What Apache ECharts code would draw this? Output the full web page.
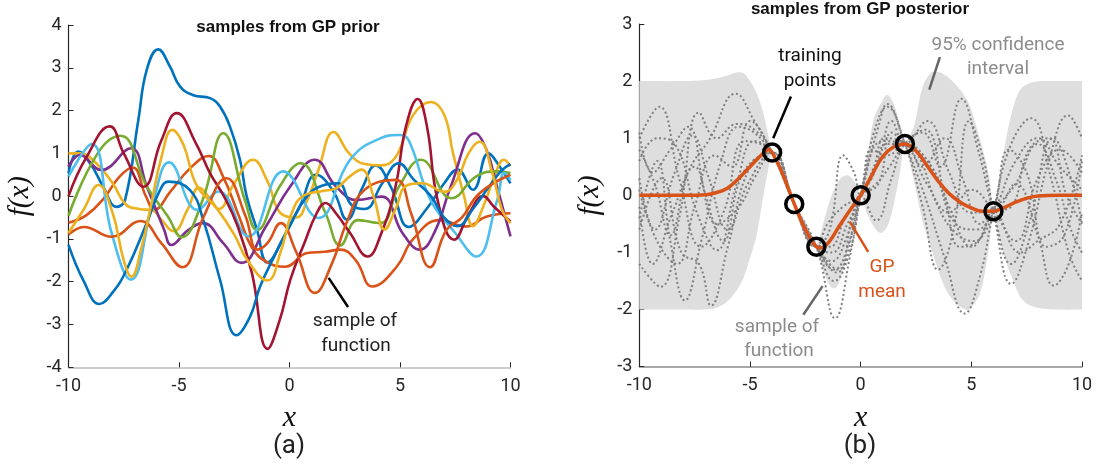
<!DOCTYPE html>
<html>
<head>
<meta charset="utf-8">
<script src="https://cdn.jsdelivr.net/npm/echarts@6/dist/echarts.min.js"></script>
<style>
  html, body { margin: 0; padding: 0; background: #fff; }
  #chart { width: 1099px; height: 467px; }
</style>
</head>
<body>
<div id="chart"></div>
<script>
// ---------- (a) samples drawn from the GP prior: [x, f(x)] ----------
const priorBlueA = [[-10,0.54],[-9.56,1.04],[-9.0,0.75],[-8.43,0.22],[-7.82,-0.25],[-7.44,-0.09],[-6.84,1.78],[-6.46,2.95],[-5.94,3.43],[-5.41,3.03],[-4.95,2.56],[-4.35,2.36],[-3.6,2.29],[-3.14,2.09],[-2.69,1.62],[-2.24,0.85],[-1.94,0.0],[-1.47,-0.79],[-1.0,-1.55],[-0.3,-1.0],[0.5,-0.2],[1.2,0.5],[2.0,0.1],[2.6,-0.55],[3.3,0.2],[3.9,0.72],[4.6,0.2],[5.4,-0.72],[6.2,-0.3],[7.0,0.3],[7.6,0.62],[8.3,0.15],[9.0,1.0],[9.5,0.7],[10,0.3]];
const priorOrangeA = [[-10,-0.62],[-9.2,-0.45],[-8.4,-0.05],[-7.7,0.45],[-7.1,0.67],[-6.5,0.0],[-6.1,-0.32],[-5.4,0.1],[-4.5,0.65],[-3.65,0.94],[-3.0,0.45],[-2.3,-0.45],[-1.7,-1.2],[-1.0,-1.55],[-0.2,-1.65],[0.8,-1.33],[1.6,-1.3],[2.3,-1.25],[3.0,-1.5],[3.75,-2.11],[4.85,-1.65],[5.6,-1.0],[6.8,-0.56],[8.0,-0.71],[8.9,-0.48],[10,-0.4]];
const priorYellowA = [[-10,1.0],[-9.5,1.0],[-8.8,0.8],[-8.0,0.3],[-7.4,-0.2],[-6.8,-0.3],[-6.2,-0.33],[-5.8,-0.55],[-5.25,-0.82],[-4.6,-0.3],[-4.1,0.2],[-3.6,-0.05],[-3.2,-0.3],[-2.5,0.3],[-1.65,0.85],[-1.0,0.35],[-0.4,-0.4],[0.3,-0.5],[0.8,-0.1],[1.3,0.6],[2.0,1.5],[2.7,1.0],[3.4,0.75],[4.1,0.72],[4.6,0.8],[5.0,1.1],[5.6,1.9],[6.4,2.2],[7.0,1.9],[7.4,1.0],[7.9,0.0],[8.3,-0.7],[8.8,-0.2],[9.3,0.5],[9.7,0.85],[10,0.7]];
const priorPurple = [[-10,0.69],[-9.48,0.96],[-8.52,0.61],[-7.18,1.12],[-6.46,0.23],[-5.67,-0.79],[-5.35,-1.14],[-4.6,-0.8],[-3.93,-0.63],[-3.0,-1.1],[-2.18,-1.56],[-1.07,-0.71],[0.04,0.23],[1.15,0.85],[2.1,0.23],[3.05,-0.09],[4.16,-0.01],[5.11,-0.86],[5.9,-1.25],[6.6,-0.8],[7.3,0.23],[8.4,1.47],[8.9,1.1],[9.4,0.2],[10,-0.94]];
const priorGreen = [[-10,-0.46],[-8.68,1.0],[-7.65,1.41],[-6.46,0.23],[-5.51,-0.47],[-4.88,-0.96],[-3.93,-0.09],[-3.0,1.47],[-2.02,-0.09],[-1.47,-0.79],[-0.44,0.23],[0.5,0.77],[1.63,-0.4],[2.3,-1.15],[3.1,-0.56],[4.1,-0.63],[4.96,0.23],[5.95,0.85],[7.33,-0.05],[8.45,0.46],[9.4,0.58],[10,0.54]];
const priorLightBlue = [[-10,0.46],[-8.95,1.22],[-8.05,-0.86],[-7.18,-1.95],[-6.15,-0.09],[-5.45,0.79],[-4.16,-0.32],[-3.21,0.11],[-1.86,-0.94],[-0.28,0.58],[1.31,-0.51],[2.74,0.85],[4.1,1.35],[5.0,1.43],[5.4,1.3],[6.38,-0.09],[7.5,-0.86],[8.45,-1.41],[9.4,-0.09],[9.72,0.54],[10,0.38]];
const priorDarkRed = [[-10,0.0],[-9.2,0.9],[-8.13,1.63],[-7.5,1.0],[-6.6,0.22],[-5.8,1.3],[-5.1,1.94],[-4.24,1.24],[-3.6,0.54],[-2.97,0.0],[-2.34,-0.71],[-1.7,-1.8],[-0.99,-3.57],[-0.44,-2.89],[0.04,-1.95],[0.67,-1.1],[1.23,-0.4],[1.63,-0.16],[2.1,-0.4],[2.74,-0.86],[3.53,-1.41],[4.16,-0.86],[4.8,0.23],[5.27,1.63],[5.8,2.27],[6.22,1.63],[6.7,-0.09],[7.45,-1.02],[8.13,-0.4],[8.76,0.0],[9.24,-0.24],[10,-0.59]];
const priorBlueB = [[-10,-1.14],[-9.3,-2.0],[-8.6,-2.52],[-8.0,-2.25],[-7.37,-1.72],[-6.46,-0.63],[-5.86,0.14],[-5.48,0.34],[-4.5,0.14],[-3.9,-0.56],[-3.14,-1.96],[-2.4,-3.25],[-1.79,-2.82],[-1.33,-2.11],[-0.73,-1.45],[0.0,-0.7],[0.8,0.0],[1.5,0.25],[2.2,0.3],[2.8,-0.2],[3.4,-0.3],[4.2,0.3],[4.95,0.77],[5.6,0.4],[6.4,0.0],[7.0,-0.5],[7.6,-0.7],[8.3,-0.3],[9.0,0.2],[9.6,0.6],[10,0.75]];
const priorOrangeB = [[-10,-0.9],[-9.3,-0.72],[-8.05,-0.95],[-6.75,-0.58],[-5.8,-1.1],[-4.85,-1.66],[-3.9,-0.5],[-2.85,0.42],[-2.0,-0.45],[-1.45,-1.25],[-1.0,-1.1],[-0.4,-0.63],[0.3,-1.3],[1.15,-2.26],[1.9,-1.6],[2.6,-0.6],[3.4,0.15],[4.8,0.38],[5.5,-0.4],[6.36,-1.66],[7.1,-0.79],[7.8,-0.5],[8.6,0.07],[10,0.5]];
const priorYellowB = [[-10,-0.86],[-9.3,-0.3],[-8.65,0.26],[-8.0,-0.4],[-7.5,-1.5],[-7.15,-1.88],[-6.7,-1.2],[-6.3,-0.3],[-5.8,0.9],[-5.3,1.55],[-4.8,1.2],[-4.2,0.25],[-3.3,-0.28],[-2.5,-0.9],[-1.9,-1.5],[-1.0,-1.97],[-0.4,-1.3],[0.1,-0.4],[0.6,0.0],[1.5,0.12],[2.1,0.18],[2.7,0.45],[3.25,0.62],[3.8,0.0],[4.3,-0.78],[4.8,-0.3],[5.3,0.25],[6.0,0.3],[7.0,0.1],[7.6,0.4],[8.1,1.0],[8.6,1.27],[9.2,0.5],[9.6,-0.3],[10,-0.63]];

// ---------- (b) GP posterior ----------
const trainX = [-4, -3, -2, 0, 2, 6];
const trainY = [0.75, -0.15, -0.9, 0, 0.9, -0.28];

const meanX = [-10,-8,-7,-6.5,-6,-5.5,-5,-4.5,-4.15,-4,-3.5,-3,-2.5,-2,-1.8,-1.4,-1,-0.5,0,0.5,1,1.5,2,2.5,3,3.5,4,4.5,5,5.5,6,6.5,7,7.5,8,9,10];
const meanY = [0,0,0.01,0.05,0.13,0.3,0.5,0.7,0.8,0.75,0.35,-0.15,-0.6,-0.9,-0.92,-0.8,-0.56,-0.27,0,0.35,0.68,0.85,0.9,0.78,0.52,0.25,0.03,-0.12,-0.22,-0.28,-0.28,-0.21,-0.12,-0.05,-0.01,0,0];

const bandX = [-10,-8,-7,-6.5,-6,-5.6,-5.3,-5,-4.7,-4.4,-4.2,-4,-3.5,-3,-2.5,-2,-1.7,-1.4,-1.15,-0.9,-0.6,-0.3,0,0.3,0.6,0.9,1.2,1.5,1.8,2,2.4,2.8,3.2,3.6,4,4.5,4.9,5.4,5.8,6,6.3,6.6,6.9,7.2,7.6,8.2,9,10];
const bandUpper = [2,2,2.02,2.05,2.1,2.15,2.14,2.0,1.79,1.45,1.1,0.78,0.5,-0.1,-0.45,-0.85,-0.5,-0.1,0.15,0.3,0.35,0.25,0.03,0.7,1.35,1.6,1.76,1.6,1.2,0.93,1.2,1.9,2.15,2.15,2.05,1.85,1.6,0.97,0.35,-0.25,0.4,1.05,1.55,1.85,1.96,2.0,2.0,2.0];
const bandLower = [-2,-2,-2,-1.97,-1.85,-1.66,-1.45,-1.1,-0.7,-0.02,0.4,0.72,0.25,-0.2,-0.75,-0.95,-1.3,-1.58,-1.63,-1.45,-1.0,-0.45,-0.03,-0.33,-0.55,-0.66,-0.55,-0.15,0.45,0.87,0.27,-0.45,-0.95,-1.42,-1.75,-1.95,-2.0,-1.71,-0.9,-0.31,-0.8,-1.2,-1.5,-1.77,-1.92,-1.98,-2,-2];

const post1 = [[-10,1.0],[-9.1,1.55],[-8.2,0.3],[-7.2,-0.9],[-6.2,-0.3],[-5.2,0.95],[-4,0.75],[-3,-0.15],[-2,-0.9],[-1.1,-1.35],[0,0],[1.0,0.95],[2,0.9],[3.2,0.5],[4.3,-0.5],[5.2,-0.6],[6,-0.28],[7.0,0.6],[8.0,1.0],[9.0,0.5],[10,0.1]];
const post2 = [[-10,-1.2],[-9.05,-1.6],[-8.2,-0.4],[-7.3,1.45],[-6.5,1.0],[-5.6,1.25],[-4.8,1.15],[-4,0.75],[-3,-0.15],[-2,-0.9],[-1.15,-2.15],[-0.5,-1.1],[0,0],[0.8,1.2],[1.2,1.6],[2,0.9],[2.8,0.1],[3.8,-1.1],[4.7,-2.07],[5.4,-1.4],[6,-0.28],[6.8,0.9],[7.7,1.35],[8.6,0.3],[9.4,-1.0],[10,-1.5]];
const post3 = [[-10,0.3],[-9.3,-0.6],[-8.4,0.4],[-7.6,1.05],[-6.9,0.35],[-6.0,-0.6],[-5.1,0.2],[-4,0.75],[-3,-0.15],[-2,-0.9],[-1.3,-1.15],[-0.6,-0.7],[0,0],[0.7,-0.44],[1.4,0.3],[2,0.9],[2.8,1.1],[3.6,0.5],[4.55,1.69],[5.3,0.8],[6,-0.28],[6.8,-1.2],[7.6,-0.5],[8.7,1.0],[9.5,0.3],[10,-0.5]];
const post4 = [[-10,-0.4],[-9.2,0.6],[-8.6,-0.8],[-7.94,-1.84],[-7.2,-0.8],[-6.3,0.6],[-5.5,1.2],[-4,0.75],[-3,-0.15],[-2,-0.9],[-1.4,-0.6],[-0.79,0.7],[-0.3,0.4],[0,0],[0.6,0.5],[1.1,1.0],[2,0.9],[3.0,0.2],[4.0,-0.3],[5.0,0.1],[6,-0.28],[7.0,-0.8],[8.0,0.3],[9.0,0.8],[10,0.4]];
const post5 = [[-10,0.8],[-9.3,0.2],[-8.6,-0.7],[-7.8,0.4],[-6.8,1.0],[-5.65,1.78],[-4.8,1.3],[-4,0.75],[-3,-0.15],[-2,-0.9],[-1.2,-1.5],[-0.5,-1.0],[0,0],[0.6,1.1],[1.2,1.55],[2,0.9],[2.8,-0.2],[3.5,-1.3],[4.2,-0.6],[4.9,1.3],[5.5,0.7],[6,-0.28],[6.8,-1.55],[7.6,-0.8],[8.5,0.6],[9.37,1.4],[10,1.0]];
const post6 = [[-10,-0.6],[-9.0,0.3],[-8.1,-1.0],[-7.3,-1.2],[-6.76,-1.93],[-6.0,-0.9],[-5.0,0.5],[-4,0.75],[-3,-0.15],[-2,-0.9],[-1.5,-0.5],[-0.8,-0.2],[0,0],[0.8,0.6],[1.4,1.3],[2,0.9],[3.0,1.3],[4.0,0.4],[5.0,-0.3],[6,-0.28],[7.0,0.2],[8.0,-0.7],[8.73,-1.58],[9.4,-1.2],[10,-0.3]];
const post7 = [[-10,0.6],[-9.2,1.0],[-8.4,0.9],[-7.4,-0.3],[-6.5,-0.96],[-5.6,0.2],[-4.8,0.95],[-4,0.75],[-3,-0.15],[-2,-0.9],[-1.0,-1.3],[-0.4,-0.4],[0,0],[0.7,0.2],[1.3,0.5],[2,0.9],[2.9,1.15],[3.8,0.0],[4.5,-0.9],[5.3,-0.8],[6,-0.28],[6.7,0.8],[7.5,0.4],[8.4,-0.9],[9.2,-0.7],[10,0.6]];
const post8 = [[-10,0.1],[-9.2,-0.8],[-8.3,-1.2],[-7.5,-0.2],[-6.6,0.7],[-5.8,0.5],[-5.0,1.3],[-4,0.75],[-3,-0.15],[-2,-0.9],[-1.3,-1.0],[-0.6,-0.5],[0,0],[0.5,0.8],[1.2,0.7],[2,0.9],[3.2,0.5],[4.0,-0.2],[5.0,-0.9],[6,-0.28],[7.0,0.2],[8.0,0.9],[8.8,0.3],[9.5,-0.6],[10,-1.0]];
const post9 = [[-10,-0.2],[-9.4,-1.2],[-8.5,-0.3],[-7.5,0.5],[-6.5,-0.5],[-5.5,-0.2],[-4.8,0.3],[-4,0.75],[-3,-0.15],[-2,-0.9],[-1.2,-1.3],[-0.5,-0.8],[0,0],[0.5,0.3],[1.2,0.9],[2,0.9],[2.8,0.5],[3.8,1.0],[4.6,0.3],[5.4,-0.5],[6,-0.28],[6.8,-0.2],[7.6,0.8],[8.5,1.0],[9.3,0.0],[10,-0.5]];
const post10 = [[-10,1.1],[-9.4,0.4],[-8.6,0.8],[-7.8,1.2],[-7.0,0.0],[-6.2,-0.8],[-5.3,0.4],[-4,0.75],[-3,-0.15],[-2,-0.9],[-1.4,-0.9],[-0.7,-0.4],[0,0],[0.8,0.2],[1.4,1.1],[2,0.9],[2.6,0.7],[3.5,-0.2],[4.4,-0.7],[5.2,-0.8],[6,-0.28],[7.2,-1.0],[8.0,-0.8],[9.0,-0.5],[10,0.7]];

// Tick values for both panels
const xTicks = [-10, -5, 0, 5, 10];
const priorYRange = [-4, 4];
const postYRange = [-3, 3];

// ---------- styling ----------
const C = {
  blue: '#0072BD', orange: '#D95319', yellow: '#EDB120', purple: '#7E2F8E',
  green: '#77AC30', lightBlue: '#4DBEEE', darkRed: '#A2142F'
};
const axisText = '#262626';
const labelFont = 'Roboto, "Liberation Sans", sans-serif';
const mathFont = '"Liberation Serif", "DejaVu Serif", serif';

function xAxisDef(idx, lineColor) {
  return {
    type: 'value', gridIndex: idx, min: xTicks[0], max: xTicks[xTicks.length - 1], interval: 5,
    name: 'x', nameLocation: 'middle', nameGap: 36,
    nameTextStyle: { fontFamily: mathFont, fontStyle: 'italic', fontSize: 30, color: '#111' },
    axisLine: { onZero: false, lineStyle: { color: lineColor, width: 1.5 } },
    axisTick: { inside: true, length: 5, lineStyle: { color: axisText, width: 1 } },
    axisLabel: { fontFamily: labelFont, fontSize: 18, color: axisText, margin: 10 },
    splitLine: { show: false }
  };
}
function yAxisDef(idx, range) {
  return {
    type: 'value', gridIndex: idx, min: range[0], max: range[1], interval: 1,
    name: 'f(x)', nameLocation: 'middle', nameRotate: 90, nameGap: 34,
    nameTextStyle: { fontFamily: mathFont, fontStyle: 'italic', fontSize: 29, color: '#111' },
    axisLine: { onZero: false, lineStyle: { color: axisText, width: 1.2 } },
    axisTick: { inside: true, length: 5, lineStyle: { color: axisText, width: 1 } },
    axisLabel: { fontFamily: labelFont, fontSize: 18, color: axisText, margin: 7 },
    splitLine: { show: false }
  };
}

const priorCurves = [
  [priorBlueA, C.blue], [priorOrangeA, C.orange], [priorYellowA, C.yellow],
  [priorPurple, C.purple], [priorGreen, C.green], [priorLightBlue, C.lightBlue],
  [priorDarkRed, C.darkRed], [priorBlueB, C.blue], [priorOrangeB, C.orange],
  [priorYellowB, C.yellow]
];

const series = [];

priorCurves.forEach(function (c, i) {
  series.push({
    type: 'line', xAxisIndex: 0, yAxisIndex: 0, data: c[0], smooth: 0.45,
    showSymbol: false, symbol: 'none', silent: true, z: 2 + i * 0.01,
    lineStyle: { color: c[1], width: 2.6 }
  });
});

// arrow pointing at one prior sample
series[series.length - 1].markLine = {
  silent: true, symbol: ['none', 'arrow'], symbolSize: [0, 13], animation: false,
  label: { show: false },
  lineStyle: { color: '#000', width: 2.5, type: 'solid' },
  data: [[{ coord: [2.65, -2.59] }, { coord: [1.77, -1.91] }]]
};

// 95% confidence band as one filled outline: upper edge left→right, lower edge right→left.
// The outline is carried a little past both plot edges so the smoothed corners fall
// outside the clip rectangle and the band keeps square ends at x = ±10.
series.push({
  type: 'custom', xAxisIndex: 1, yAxisIndex: 1, silent: true, z: 1,
  data: [[0, 0]],
  renderItem: function (params, api) {
    const cs = params.coordSys;
    const pad = 40;
    const n = bandX.length;
    const up = bandX.map(function (x, i) { return api.coord([x, bandUpper[i]]); });
    const lo = bandX.map(function (x, i) { return api.coord([x, bandLower[i]]); });
    const pts = [];
    pts.push([up[0][0] - pad, up[0][1]]);
    up.forEach(function (p) { pts.push(p); });
    pts.push([up[n - 1][0] + pad, up[n - 1][1]]);
    pts.push([lo[n - 1][0] + pad, lo[n - 1][1]]);
    for (let i = n - 1; i >= 0; i--) pts.push(lo[i]);
    pts.push([lo[0][0] - pad, lo[0][1]]);
    return {
      type: 'polygon',
      shape: {
        points: pts, smooth: 0.3,
        smoothConstraint: [[cs.x - pad, cs.y], [cs.x + cs.width + pad, cs.y + cs.height]]
      },
      style: { fill: '#dedede', stroke: null },
      clipPath: { type: 'rect', shape: { x: cs.x, y: cs.y, width: cs.width, height: cs.height } }
    };
  }
});

[post1, post2, post3, post4, post5, post6, post7, post8, post9, post10].forEach(function (d) {
  series.push({
    type: 'line', xAxisIndex: 1, yAxisIndex: 1, data: d, smooth: 0.45,
    symbol: 'none', silent: true, z: 2,
    lineStyle: { color: '#7f7f7f', width: 2, type: [2, 2.6] }
  });
});

series.push({
  type: 'line', xAxisIndex: 1, yAxisIndex: 1,
  data: meanX.map(function (x, i) { return [x, meanY[i]]; }),
  smooth: 0.4, symbol: 'none', silent: true, z: 3,
  lineStyle: { color: C.orange, width: 3.5 }
});

series.push({
  type: 'scatter', xAxisIndex: 1, yAxisIndex: 1,
  data: trainX.map(function (x, i) { return [x, trainY[i]]; }),
  symbol: 'circle', symbolSize: 17, silent: true, z: 4,
  itemStyle: { color: 'rgba(0,0,0,0)', borderColor: '#000', borderWidth: 3.5, opacity: 1 },
  markLine: {
    silent: true, symbol: ['none', 'arrow'], symbolSize: [0, 13], animation: false,
    label: { show: false },
    lineStyle: { width: 2.5, type: 'solid' },
    data: [
      [{ coord: [-3.15, 1.73], lineStyle: { color: '#000' } }, { coord: [-3.95, 1.0] }],
      [{ coord: [3.58, 2.42], lineStyle: { color: '#666' } }, { coord: [3.1, 1.85] }],
      [{ coord: [-2.59, -2.09], lineStyle: { color: '#666' } }, { coord: [-1.72, -1.59] }],
      [{ coord: [0.34, -0.99], lineStyle: { color: C.orange } }, { coord: [-0.49, -0.46] }]
    ]
  }
});

function txt(x, y, text, opts) {
  return {
    type: 'text', x: x, y: y, silent: true, z: 10,
    style: Object.assign({
      text: text, textAlign: 'center', textVerticalAlign: 'middle',
      fontFamily: labelFont, fontSize: 19, fill: '#222'
    }, opts || {})
  };
}

const titleFont = '"Liberation Sans", Arial, sans-serif';
const graphics = [
  txt(288, 27, 'samples from GP prior', { fontFamily: titleFont, fontWeight: 'bold', fontSize: 17, fill: '#111' }),
  txt(860, 9, 'samples from GP posterior', { fontFamily: titleFont, fontWeight: 'bold', fontSize: 17, fill: '#111' }),
  txt(289, 446, '(a)', { fontSize: 26, fill: '#222' }),
  txt(860, 446, '(b)', { fontSize: 26, fill: '#222' }),
  txt(355, 321, 'sample of', { fontSize: 19 }),
  txt(356, 346, 'function', { fontSize: 19 }),
  txt(810, 56, 'training', { fontSize: 19, fill: '#111' }),
  txt(810, 81, 'points', { fontSize: 19, fill: '#111' }),
  txt(998, 45, '95% confidence', { fontSize: 19, fill: '#8c8c8c' }),
  txt(998, 69, 'interval', { fontSize: 19, fill: '#8c8c8c' }),
  txt(777, 327, 'sample of', { fontSize: 19, fill: '#8c8c8c' }),
  txt(779, 351, 'function', { fontSize: 19, fill: '#8c8c8c' }),
  txt(882, 267, 'GP', { fontSize: 19, fill: C.orange }),
  txt(882, 292, 'mean', { fontSize: 19, fill: C.orange })
];

const chart = echarts.init(document.getElementById('chart'), null, { renderer: 'canvas' });
chart.setOption({
  animation: false,
  backgroundColor: '#fff',
  grid: [
    { left: 68.5, right: 588.5, top: 25, bottom: 99.7 },
    { left: 639.3, right: 17, top: 24, bottom: 100.3 }
  ],
  xAxis: [xAxisDef(0, '#bdbdbd'), xAxisDef(1, '#8a8a8a')],
  yAxis: [yAxisDef(0, priorYRange), yAxisDef(1, postYRange)],
  series: series,
  graphic: graphics
});
</script>
</body>
</html>
